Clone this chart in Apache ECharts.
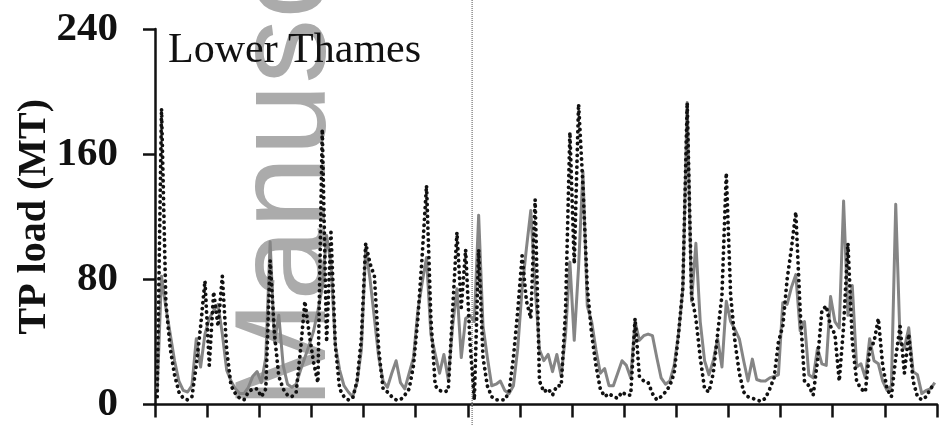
<!DOCTYPE html>
<html>
<head>
<meta charset="utf-8">
<script src="https://cdn.jsdelivr.net/npm/echarts@6/dist/echarts.min.js"></script>
<style>
  html, body { margin: 0; padding: 0; background: #fff; }
  #chart { width: 947px; height: 425px; }
</style>
</head>
<body>
<div id="chart"></div>
<script>
// Monthly total phosphorus load, Lower Thames, 15 years
const panelTitle = 'Lower Thames';
const yAxisTitle = 'TP load (MT)';
const yTicks = [0, 80, 160, 240];
const monthsPerYear = 12;
const yearCount = 15;
const splitMonth = 73;           // start of the second period
const watermarkText = 'Manuscript';

// observed load (grey solid line)
const observed = [
  8, 82, 62, 45, 28, 15, 9, 8, 12, 42, 24, 45,
  55, 60, 64, 45, 22, 15, 10, 7, 7, 11, 18, 21,
  14, 30, 104, 40, 57, 25, 13, 11, 13, 22, 30, 38,
  47, 60, 75, 108, 90, 38, 22, 12, 8, 5, 14, 35,
  100, 80, 55, 30, 15, 11, 20, 28, 14, 10, 20, 30,
  60, 78, 94, 45, 32, 20, 32, 16, 50, 74, 30, 55,
  57, 53, 121, 50, 30, 12, 13, 15, 9, 7, 12, 36,
  74, 100, 124, 75, 35, 28, 32, 21, 32, 18, 45, 91,
  41, 88, 149, 63, 53, 35, 20, 23, 12, 12, 20, 28,
  25, 17, 53, 41, 44, 45, 44, 30, 17, 13, 15, 25,
  45, 74, 193, 66, 103, 53, 28, 19, 28, 42, 24, 66,
  53, 48, 42, 28, 15, 29, 16, 15, 15, 17, 18, 19,
  65, 64, 75, 83, 47, 53, 19, 17, 36, 26, 25, 69,
  53, 49, 130, 57, 76, 24, 26, 17, 42, 28, 26, 15,
  9, 12, 128, 40, 36, 49, 21, 19, 7, 9, 10, 14
];

// simulated load (black dotted line)
const simulated = [
  5, 189, 65, 36, 19, 8, 4, 3, 5, 25, 50, 79,
  25, 72, 50, 82, 35, 12, 7, 4, 3, 8, 10, 10,
  5, 10, 92, 45, 18, 10, 6, 5, 8, 35, 66, 45,
  27, 14, 176, 40, 110, 38, 10, 5, 3, 4, 15, 42,
  103, 90, 82, 35, 10, 8, 5, 3, 3, 6, 10, 25,
  55, 95, 140, 55, 12, 9, 8, 9, 60, 110, 62, 99,
  40, 3, 99, 30, 12, 5, 3, 3, 3, 8, 30, 60,
  95, 66, 55, 131, 15, 8, 10, 6, 12, 12, 60, 174,
  90, 192, 140, 75, 45, 25, 10, 5, 7, 5, 4, 8,
  6, 6, 55, 18, 15, 14, 7, 3, 5, 8, 12, 20,
  45, 75, 193, 70, 55, 30, 10, 8, 20, 45, 70, 148,
  70, 40, 20, 8, 5, 4, 3, 2, 4, 10, 17, 40,
  50, 80, 100, 123, 60, 15, 12, 6, 28, 60, 63, 50,
  45, 15, 50, 103, 40, 15, 10, 8, 35, 40, 55, 25,
  10, 5, 30, 50, 20, 45, 15, 5, 3, 5, 10, 14
];

const toPoints = arr => arr.map((v, i) => [i + 0.5, v]);

const serif = '"Liberation Serif", "Times New Roman", serif';
const chart = echarts.init(document.getElementById('chart'), null, { renderer: 'canvas' });

chart.setOption({
  animation: false,
  backgroundColor: '#fff',
  title: {
    text: panelTitle,
    left: 163,
    top: 25,
    textStyle: { fontFamily: serif, fontSize: 42, fontWeight: 'normal', color: '#111' }
  },
  grid: { left: 155, right: 10, top: 29, bottom: 18, containLabel: false },
  xAxis: {
    type: 'value',
    min: 0,
    max: monthsPerYear * yearCount,
    interval: monthsPerYear,
    axisLine: { show: true, lineStyle: { color: '#111', width: 2.5 } },
    axisTick: { show: true, inside: false, length: 13, lineStyle: { color: '#111', width: 2.5 } },
    axisLabel: { show: false },
    splitLine: { show: false }
  },
  yAxis: {
    type: 'value',
    min: yTicks[0],
    max: yTicks[yTicks.length - 1],
    interval: yTicks[1] - yTicks[0],
    name: yAxisTitle,
    nameLocation: 'middle',
    nameGap: 100,
    nameMoveOverlap: false,
    nameTextStyle: { fontFamily: serif, fontSize: 40, fontWeight: 'bold', color: '#111' },
    axisLine: { show: true, lineStyle: { color: '#111', width: 2.5 } },
    axisTick: { show: true, inside: false, length: 12, lineStyle: { color: '#111', width: 2.5 } },
    axisLabel: { margin: 37, fontFamily: serif, fontSize: 41, fontWeight: 'bold', color: '#111' },
    splitLine: { show: false }
  },
  series: [
    {
      name: 'Observed',
      type: 'line',
      data: toPoints(observed),
      symbol: 'none',
      z: 3,
      lineStyle: { color: '#858585', width: 3, join: 'round' }
    },
    {
      name: 'Simulated',
      type: 'line',
      data: toPoints(simulated),
      symbol: 'none',
      z: 4,
      lineStyle: { color: '#111', width: 3.8, type: [0.1, 5.8], cap: 'round', join: 'round' }
    }
  ]
});

// period divider and watermark, placed through the axis scale
const splitX = chart.convertToPixel({ xAxisIndex: 0 }, splitMonth);
chart.setOption({
  graphic: [
    {
      type: 'text',
      id: 'watermark',
      x: 289,
      y: 409,
      rotation: Math.PI / 2,
      z: 1,
      silent: true,
      style: {
        text: watermarkText,
        font: '130px "Liberation Sans", Arial, sans-serif',
        fill: '#ababab',
        textAlign: 'left',
        textVerticalAlign: 'middle'
      }
    },
    {
      type: 'line',
      id: 'divider',
      z: 2,
      silent: true,
      shape: { x1: splitX, y1: 0, x2: splitX, y2: 425 },
      style: { stroke: '#8c8c8c', lineWidth: 1.5, lineDash: [1, 1] }
    }
  ]
});
</script>
</body>
</html>
